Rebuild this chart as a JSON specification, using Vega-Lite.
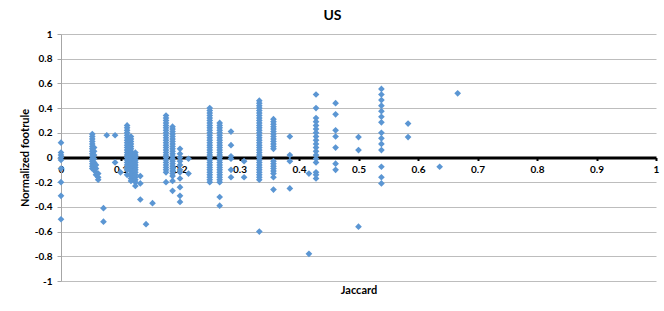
{
  "$schema": "https://vega.github.io/schema/vega-lite/v6.json",
  "width": 595,
  "height": 247,
  "autosize": {"type": "none"},
  "padding": {"left": 61, "top": 34, "right": 8, "bottom": 30},
  "background": "white",
  "config": {"view": {"stroke": null}, "font": "Lato"},
  "title": {"text": "US", "fontSize": 14, "fontWeight": "bold", "font": "Lato", "color": "black", "dx": -26, "offset": 6},
  "data": {"values": [
    {"j":0,"v":0.12},{"j":0,"v":0.04},{"j":0,"v":0.02},{"j":0,"v":0},{"j":0,"v":-0.02},{"j":0,"v":-0.09},{"j":0,"v":-0.2},{"j":0,"v":-0.31},{"j":0,"v":-0.5},
    {"j":0.0526,"v":0.19},{"j":0.0526,"v":0.17},{"j":0.0526,"v":0.15},{"j":0.0526,"v":0.13},{"j":0.0526,"v":0.11},{"j":0.0526,"v":0.09},{"j":0.0526,"v":0.07},{"j":0.0526,"v":0.05},{"j":0.0526,"v":0.03},{"j":0.0526,"v":0.01},{"j":0.0526,"v":-0.01},{"j":0.0526,"v":-0.03},{"j":0.0526,"v":-0.05},{"j":0.0526,"v":-0.07},{"j":0.0526,"v":-0.09},
    {"j":0.0556,"v":0.08},{"j":0.0556,"v":0.05},{"j":0.0556,"v":0.02},{"j":0.0556,"v":-0.01},{"j":0.0556,"v":-0.04},{"j":0.0556,"v":-0.07},{"j":0.0556,"v":-0.1},
    {"j":0.0588,"v":-0.06},{"j":0.0588,"v":-0.09},{"j":0.0588,"v":-0.12},{"j":0.0588,"v":-0.14},
    {"j":0.0625,"v":-0.13},{"j":0.0625,"v":-0.16},{"j":0.0625,"v":-0.18},
    {"j":0.0714,"v":-0.41},{"j":0.0714,"v":-0.52},
    {"j":0.0769,"v":0.18},
    {"j":0.0909,"v":0.18},{"j":0.0909,"v":-0.04},
    {"j":0.1,"v":-0.12},
    {"j":0.1111,"v":0.26},{"j":0.1111,"v":0.24},{"j":0.1111,"v":0.22},{"j":0.1111,"v":0.2},{"j":0.1111,"v":0.18},{"j":0.1111,"v":0.16},{"j":0.1111,"v":0.14},{"j":0.1111,"v":0.12},{"j":0.1111,"v":0.1},{"j":0.1111,"v":0.08},{"j":0.1111,"v":0.06},{"j":0.1111,"v":0.04},{"j":0.1111,"v":0.02},{"j":0.1111,"v":0},{"j":0.1111,"v":-0.02},{"j":0.1111,"v":-0.04},{"j":0.1111,"v":-0.06},{"j":0.1111,"v":-0.08},{"j":0.1111,"v":-0.1},{"j":0.1111,"v":-0.14},
    {"j":0.1176,"v":0.17},{"j":0.1176,"v":0.15},{"j":0.1176,"v":0.13},{"j":0.1176,"v":0.11},{"j":0.1176,"v":0.09},{"j":0.1176,"v":0.07},{"j":0.1176,"v":0.05},{"j":0.1176,"v":0.03},{"j":0.1176,"v":0.01},{"j":0.1176,"v":-0.01},{"j":0.1176,"v":-0.03},{"j":0.1176,"v":-0.05},{"j":0.1176,"v":-0.07},{"j":0.1176,"v":-0.09},{"j":0.1176,"v":-0.11},{"j":0.1176,"v":-0.13},{"j":0.1176,"v":-0.15},{"j":0.1176,"v":-0.17},{"j":0.1176,"v":-0.19},
    {"j":0.125,"v":0.04},{"j":0.125,"v":0.02},{"j":0.125,"v":0},{"j":0.125,"v":-0.02},{"j":0.125,"v":-0.04},{"j":0.125,"v":-0.06},{"j":0.125,"v":-0.08},{"j":0.125,"v":-0.1},{"j":0.125,"v":-0.12},{"j":0.125,"v":-0.14},{"j":0.125,"v":-0.16},{"j":0.125,"v":-0.18},{"j":0.125,"v":-0.2},{"j":0.125,"v":-0.23},
    {"j":0.1333,"v":-0.15},{"j":0.1333,"v":-0.21},{"j":0.1333,"v":-0.34},
    {"j":0.1429,"v":-0.54},
    {"j":0.1538,"v":-0.37},
    {"j":0.1765,"v":0.34},{"j":0.1765,"v":0.32},{"j":0.1765,"v":0.3},{"j":0.1765,"v":0.28},{"j":0.1765,"v":0.26},{"j":0.1765,"v":0.24},{"j":0.1765,"v":0.22},{"j":0.1765,"v":0.2},{"j":0.1765,"v":0.18},{"j":0.1765,"v":0.16},{"j":0.1765,"v":0.14},{"j":0.1765,"v":0.12},{"j":0.1765,"v":0.1},{"j":0.1765,"v":0.08},{"j":0.1765,"v":0.06},{"j":0.1765,"v":0.04},{"j":0.1765,"v":0.02},{"j":0.1765,"v":0},{"j":0.1765,"v":-0.02},{"j":0.1765,"v":-0.04},{"j":0.1765,"v":-0.06},{"j":0.1765,"v":-0.08},{"j":0.1765,"v":-0.1},{"j":0.1765,"v":-0.12},{"j":0.1765,"v":-0.2},
    {"j":0.1875,"v":0.25},{"j":0.1875,"v":0.23},{"j":0.1875,"v":0.21},{"j":0.1875,"v":0.19},{"j":0.1875,"v":0.17},{"j":0.1875,"v":0.15},{"j":0.1875,"v":0.13},{"j":0.1875,"v":0.11},{"j":0.1875,"v":0.09},{"j":0.1875,"v":0.07},{"j":0.1875,"v":0.05},{"j":0.1875,"v":0.03},{"j":0.1875,"v":0.01},{"j":0.1875,"v":-0.01},{"j":0.1875,"v":-0.03},{"j":0.1875,"v":-0.05},{"j":0.1875,"v":-0.07},{"j":0.1875,"v":-0.09},{"j":0.1875,"v":-0.11},{"j":0.1875,"v":-0.13},{"j":0.1875,"v":-0.15},{"j":0.1875,"v":-0.19},{"j":0.1875,"v":-0.27},
    {"j":0.2,"v":0.07},{"j":0.2,"v":0.03},{"j":0.2,"v":0},{"j":0.2,"v":-0.03},{"j":0.2,"v":-0.06},{"j":0.2,"v":-0.1},{"j":0.2,"v":-0.12},{"j":0.2,"v":-0.17},{"j":0.2,"v":-0.24},{"j":0.2,"v":-0.31},{"j":0.2,"v":-0.36},
    {"j":0.2143,"v":-0.01},{"j":0.2143,"v":-0.13},
    {"j":0.25,"v":0.4},{"j":0.25,"v":0.38},{"j":0.25,"v":0.36},{"j":0.25,"v":0.34},{"j":0.25,"v":0.32},{"j":0.25,"v":0.3},{"j":0.25,"v":0.28},{"j":0.25,"v":0.26},{"j":0.25,"v":0.24},{"j":0.25,"v":0.22},{"j":0.25,"v":0.2},{"j":0.25,"v":0.18},{"j":0.25,"v":0.16},{"j":0.25,"v":0.14},{"j":0.25,"v":0.12},{"j":0.25,"v":0.1},{"j":0.25,"v":0.08},{"j":0.25,"v":0.06},{"j":0.25,"v":0.04},{"j":0.25,"v":0.02},{"j":0.25,"v":0},{"j":0.25,"v":-0.02},{"j":0.25,"v":-0.04},{"j":0.25,"v":-0.06},{"j":0.25,"v":-0.08},{"j":0.25,"v":-0.1},{"j":0.25,"v":-0.12},{"j":0.25,"v":-0.14},{"j":0.25,"v":-0.16},{"j":0.25,"v":-0.18},{"j":0.25,"v":-0.2},
    {"j":0.2667,"v":0.28},{"j":0.2667,"v":0.26},{"j":0.2667,"v":0.24},{"j":0.2667,"v":0.22},{"j":0.2667,"v":0.2},{"j":0.2667,"v":0.18},{"j":0.2667,"v":0.16},{"j":0.2667,"v":0.14},{"j":0.2667,"v":0.12},{"j":0.2667,"v":0.1},{"j":0.2667,"v":0.08},{"j":0.2667,"v":0.06},{"j":0.2667,"v":0.04},{"j":0.2667,"v":0.02},{"j":0.2667,"v":0},{"j":0.2667,"v":-0.02},{"j":0.2667,"v":-0.04},{"j":0.2667,"v":-0.06},{"j":0.2667,"v":-0.08},{"j":0.2667,"v":-0.1},{"j":0.2667,"v":-0.12},{"j":0.2667,"v":-0.14},{"j":0.2667,"v":-0.16},{"j":0.2667,"v":-0.18},{"j":0.2667,"v":-0.2},{"j":0.2667,"v":-0.32},{"j":0.2667,"v":-0.39},
    {"j":0.2857,"v":0.21},{"j":0.2857,"v":0.1},{"j":0.2857,"v":0.01},{"j":0.2857,"v":-0.01},{"j":0.2857,"v":-0.1},{"j":0.2857,"v":-0.16},
    {"j":0.3077,"v":-0.03},{"j":0.3077,"v":-0.16},
    {"j":0.3333,"v":0.46},{"j":0.3333,"v":0.44},{"j":0.3333,"v":0.42},{"j":0.3333,"v":0.4},{"j":0.3333,"v":0.38},{"j":0.3333,"v":0.36},{"j":0.3333,"v":0.34},{"j":0.3333,"v":0.32},{"j":0.3333,"v":0.3},{"j":0.3333,"v":0.28},{"j":0.3333,"v":0.26},{"j":0.3333,"v":0.24},{"j":0.3333,"v":0.22},{"j":0.3333,"v":0.2},{"j":0.3333,"v":0.18},{"j":0.3333,"v":0.16},{"j":0.3333,"v":0.14},{"j":0.3333,"v":0.12},{"j":0.3333,"v":0.1},{"j":0.3333,"v":0.08},{"j":0.3333,"v":0.06},{"j":0.3333,"v":0.04},{"j":0.3333,"v":0.02},{"j":0.3333,"v":0},{"j":0.3333,"v":-0.02},{"j":0.3333,"v":-0.04},{"j":0.3333,"v":-0.06},{"j":0.3333,"v":-0.08},{"j":0.3333,"v":-0.1},{"j":0.3333,"v":-0.12},{"j":0.3333,"v":-0.14},{"j":0.3333,"v":-0.16},{"j":0.3333,"v":-0.18},{"j":0.3333,"v":-0.6},
    {"j":0.3571,"v":0.31},{"j":0.3571,"v":0.29},{"j":0.3571,"v":0.27},{"j":0.3571,"v":0.25},{"j":0.3571,"v":0.23},{"j":0.3571,"v":0.21},{"j":0.3571,"v":0.19},{"j":0.3571,"v":0.17},{"j":0.3571,"v":0.15},{"j":0.3571,"v":0.13},{"j":0.3571,"v":0.11},{"j":0.3571,"v":0.09},{"j":0.3571,"v":0.07},{"j":0.3571,"v":-0.03},{"j":0.3571,"v":-0.05},{"j":0.3571,"v":-0.07},{"j":0.3571,"v":-0.09},{"j":0.3571,"v":-0.11},{"j":0.3571,"v":-0.13},{"j":0.3571,"v":-0.16},{"j":0.3571,"v":-0.26},
    {"j":0.3846,"v":0.17},{"j":0.3846,"v":0.02},{"j":0.3846,"v":-0.03},{"j":0.3846,"v":-0.25},
    {"j":0.4167,"v":-0.13},{"j":0.4167,"v":-0.78},
    {"j":0.4286,"v":0.51},{"j":0.4286,"v":0.4},{"j":0.4286,"v":0.32},{"j":0.4286,"v":0.29},{"j":0.4286,"v":0.26},{"j":0.4286,"v":0.23},{"j":0.4286,"v":0.2},{"j":0.4286,"v":0.17},{"j":0.4286,"v":0.14},{"j":0.4286,"v":0.11},{"j":0.4286,"v":0.08},{"j":0.4286,"v":0.05},{"j":0.4286,"v":0.02},{"j":0.4286,"v":-0.01},{"j":0.4286,"v":-0.04},{"j":0.4286,"v":-0.12},{"j":0.4286,"v":-0.14},{"j":0.4286,"v":-0.17},
    {"j":0.4615,"v":0.44},{"j":0.4615,"v":0.35},{"j":0.4615,"v":0.22},{"j":0.4615,"v":0.17},{"j":0.4615,"v":0.08},{"j":0.4615,"v":-0.05},{"j":0.4615,"v":-0.1},
    {"j":0.5,"v":0.165},{"j":0.5,"v":0.06},{"j":0.5,"v":-0.56},
    {"j":0.5385,"v":0.555},{"j":0.5385,"v":0.51},{"j":0.5385,"v":0.465},{"j":0.5385,"v":0.42},{"j":0.5385,"v":0.375},{"j":0.5385,"v":0.33},{"j":0.5385,"v":0.285},{"j":0.5385,"v":0.2},{"j":0.5385,"v":0.155},{"j":0.5385,"v":0.11},{"j":0.5385,"v":0.06},{"j":0.5385,"v":-0.075},{"j":0.5385,"v":-0.16},{"j":0.5385,"v":-0.21},
    {"j":0.5833,"v":0.275},{"j":0.5833,"v":0.165},
    {"j":0.6364,"v":-0.075},
    {"j":0.6667,"v":0.52}
  ]},
  "mark": {"type": "point", "shape": "diamond", "filled": true, "size": 45, "opacity": 1, "color": "#5b96d3"},
  "encoding": {
    "x": {
      "field": "j", "type": "quantitative",
      "scale": {"domain": [0, 1], "nice": false, "zero": false},
      "axis": {
        "values": [0, 0.1, 0.2, 0.3, 0.4, 0.5, 0.6, 0.7, 0.8, 0.9, 1],
        "labelExpr": "'' + datum.value",
        "grid": false,
        "offset": -123.5,
        "domainColor": "black", "domainWidth": 3,
        "tickColor": "black", "tickSize": 3, "tickWidth": 2,
        "labelPadding": 4, "labelFlush": false,
        "labelFontSize": 10, "labelFontWeight": "bold", "labelColor": "black", "labelFont": "Lato",
        "title": "Jaccard", "titleFont": "Lato", "titleFontSize": 11, "titleFontWeight": "bold", "titleColor": "black",
        "titleBaseline": "middle", "titleY": 133
      }
    },
    "y": {
      "field": "v", "type": "quantitative",
      "scale": {"domain": [-1, 1], "nice": false},
      "axis": {
        "values": [-1, -0.8, -0.6, -0.4, -0.2, 0, 0.2, 0.4, 0.6, 0.8, 1],
        "labelExpr": "'' + datum.value",
        "grid": true, "gridColor": "#bdbdbd", "gridWidth": 1,
        "domainColor": "#a6a6a6", "tickColor": "#a6a6a6", "tickSize": 4,
        "labelPadding": 5,
        "labelFontSize": 10, "labelFontWeight": "bold", "labelColor": "black", "labelFont": "Lato",
        "title": "Normalized footrule", "titleFont": "Lato", "titleFontSize": 11, "titleFontWeight": "bold", "titleColor": "black",
        "titlePadding": 4
      }
    }
  }
}
